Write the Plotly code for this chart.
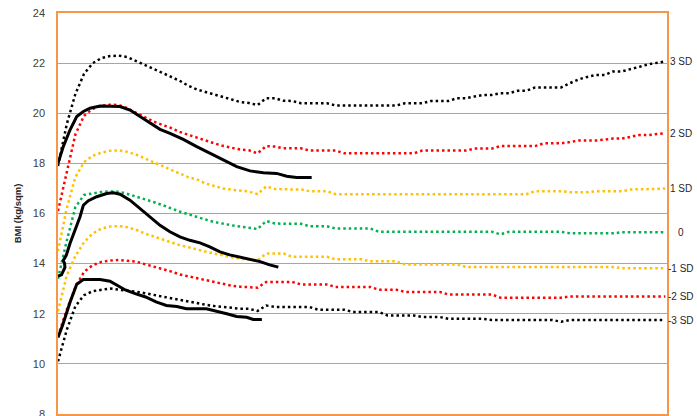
import plotly.graph_objects as go

# Age in months (reference curves, monthly points; length->height switch after month 23)
ages = list(range(0, 71))

sd3 = [17.9, 19.55, 20.77, 21.57, 22.0, 22.2, 22.28, 22.3, 22.24, 22.08, 21.95, 21.78, 21.62, 21.47, 21.3,
       21.1, 20.95, 20.85, 20.75, 20.65, 20.55, 20.45, 20.41, 20.33, 20.6,
       20.6, 20.5, 20.49, 20.4, 20.4, 20.4, 20.4,
       20.31, 20.31, 20.31, 20.31, 20.31, 20.31, 20.31, 20.31,
       20.4, 20.4, 20.4, 20.49, 20.49, 20.49, 20.6, 20.6, 20.67, 20.73, 20.73, 20.8, 20.8, 20.9, 20.9,
       21.03, 21.03, 21.03, 21.03, 21.2, 21.35, 21.45, 21.53, 21.53, 21.67, 21.67, 21.75, 21.85, 21.95,
       22.0, 22.07]

sd2 = [16.1, 17.6, 19.15, 19.9, 20.18, 20.3, 20.34, 20.33, 20.2, 20.02, 19.84, 19.67, 19.54, 19.42, 19.26,
       19.14, 19.02, 18.9, 18.8, 18.7, 18.62, 18.55, 18.52, 18.4, 18.69,
       18.67, 18.6, 18.6, 18.6,
       18.51, 18.51, 18.51, 18.51,
       18.4, 18.4, 18.4, 18.4, 18.4, 18.4, 18.4, 18.4, 18.4,
       18.51, 18.51, 18.51, 18.51, 18.51, 18.51,
       18.59, 18.59, 18.59,
       18.69, 18.69, 18.69, 18.69, 18.69,
       18.8, 18.8, 18.8, 18.85, 18.91, 18.91, 18.91, 18.95, 18.99, 18.99, 19.05, 19.13, 19.13, 19.17, 19.2]

sd1 = [14.5, 16.2, 17.45, 18.05, 18.3, 18.43, 18.5, 18.52, 18.46, 18.35, 18.2, 18.05, 17.9, 17.72, 17.57,
       17.45, 17.36, 17.2, 17.1, 17.0, 16.95, 16.91, 16.88, 16.77, 17.08,
       16.98, 16.96, 16.96, 16.96, 16.89, 16.89, 16.89,
       16.77, 16.77, 16.77, 16.77, 16.77, 16.77, 16.77, 16.77, 16.77, 16.77, 16.77, 16.77,
       16.77, 16.77, 16.77, 16.77, 16.77, 16.77, 16.77, 16.77, 16.77, 16.77, 16.77,
       16.89, 16.89, 16.89, 16.89, 16.85, 16.85, 16.85, 16.89, 16.89, 16.89, 16.89,
       16.96, 16.96, 16.96, 16.98, 17.0]

sd0 = [13.4, 14.9, 16.25, 16.74, 16.8, 16.86, 16.88, 16.87, 16.78, 16.68, 16.57, 16.46, 16.34, 16.2, 16.08,
       15.97, 15.88, 15.76, 15.66, 15.59, 15.53, 15.48, 15.43, 15.38, 15.7,
       15.6, 15.59, 15.59, 15.59, 15.49, 15.49, 15.49,
       15.4, 15.4, 15.4, 15.4, 15.4,
       15.27, 15.27, 15.27, 15.27, 15.27, 15.27, 15.27, 15.27, 15.27, 15.27, 15.27, 15.27, 15.27, 15.27,
       15.17, 15.27, 15.27, 15.27, 15.27, 15.27, 15.27, 15.27,
       15.21, 15.21, 15.21, 15.21, 15.21, 15.21,
       15.25, 15.25, 15.25, 15.25, 15.25, 15.25]

sdm1 = [12.1, 13.52, 14.3, 14.85, 15.2, 15.4, 15.48, 15.5, 15.45, 15.35, 15.2, 15.08, 14.98, 14.85, 14.74,
        14.66, 14.56, 14.48, 14.4, 14.32, 14.24, 14.19, 14.17, 14.13, 14.4,
        14.4, 14.4, 14.27, 14.27, 14.27, 14.27, 14.27,
        14.17, 14.17, 14.17, 14.17, 14.09, 14.09, 14.09, 14.09,
        13.97, 13.97, 13.97, 13.97, 13.97, 13.97, 13.97,
        13.87, 13.87, 13.87, 13.87, 13.87, 13.87, 13.87, 13.87, 13.87, 13.87, 13.87, 13.87, 13.87, 13.87,
        13.87, 13.87, 13.87, 13.87,
        13.82, 13.82, 13.82, 13.82, 13.82, 13.82]

sdm2 = [11.1, 12.15, 13.05, 13.67, 13.94, 14.07, 14.12, 14.15, 14.11, 14.08, 13.98, 13.89, 13.8, 13.69, 13.57,
        13.5, 13.42, 13.33, 13.27, 13.19, 13.12, 13.08, 13.07, 13.04, 13.27,
        13.27, 13.27, 13.27, 13.17, 13.17, 13.17, 13.17,
        13.07, 13.07, 13.07, 13.07, 13.07, 12.96, 12.96, 12.96,
        12.87, 12.87, 12.87, 12.87, 12.87, 12.77, 12.77, 12.77, 12.77, 12.77, 12.77,
        12.64, 12.64, 12.64, 12.64, 12.64, 12.64, 12.64, 12.64,
        12.69, 12.69, 12.69, 12.69, 12.69, 12.69, 12.69, 12.69, 12.69, 12.69, 12.69, 12.69]

sdm3 = [10.1, 11.35, 12.3, 12.74, 12.9, 12.97, 13.01, 12.96, 12.93, 12.88, 12.82, 12.75, 12.68, 12.63, 12.57,
        12.5, 12.43, 12.36, 12.31, 12.27, 12.22, 12.2, 12.2, 12.11, 12.33,
        12.27, 12.27, 12.27, 12.27, 12.27, 12.16, 12.16, 12.16, 12.16,
        12.07, 12.07, 12.07, 12.07, 11.93, 11.93, 11.93, 11.93, 11.87, 11.87, 11.87,
        11.8, 11.8, 11.8, 11.8, 11.8,
        11.75, 11.75, 11.75, 11.75, 11.75, 11.75, 11.75, 11.75, 11.68,
        11.75, 11.75, 11.75, 11.75, 11.75, 11.75, 11.75, 11.75, 11.75, 11.75, 11.75, 11.75]

# Child measurements (three children)
child1_age = [0, 0.61, 1.38, 2.16, 2.92, 3.69, 4.84, 5.99, 7.15, 8.3, 9.45, 10.6, 11.76, 12.91, 14.44,
              15.99, 17.52, 19.05, 20.6, 22.13, 23.67, 25.2, 26.36, 27.5, 29.24]
child1_bmi = [18.0, 18.67, 19.33, 19.87, 20.07, 20.2, 20.29, 20.29, 20.27, 20.13, 19.87, 19.6, 19.36, 19.2, 18.96,
              18.67, 18.4, 18.13, 17.87, 17.7, 17.63, 17.6, 17.49, 17.44, 17.44]

child2_age = [0, 0.4, 0.8, 0.75, 0.6, 0.95, 1.38, 1.96, 2.54, 2.92, 3.5, 4.46, 5.61, 6.38, 7.15, 8.3, 9.45,
              10.6, 11.76, 12.9, 14.06, 15.2, 16.37, 17.5, 18.67, 19.8, 20.98, 22.1, 23.3, 24.4, 25.4]
child2_bmi = [13.5, 13.55, 13.85, 14.02, 14.12, 14.33, 14.8, 15.33, 15.87, 16.33, 16.51, 16.67, 16.8, 16.83,
              16.77, 16.53, 16.2, 15.87, 15.53, 15.27, 15.07, 14.93, 14.83, 14.67, 14.47, 14.35, 14.25, 14.18,
              14.08, 13.95, 13.86]

child3_age = [0, 0.54, 1.38, 1.88, 2.16, 2.92, 4.84, 5.99, 6.76, 7.76, 8.9, 10.1, 11.3, 12.5, 13.7, 14.8,
              17.1, 18.3, 19.45, 20.6, 21.75, 22.5, 23.5]
child3_bmi = [11.05, 11.55, 12.45, 12.95, 13.18, 13.37, 13.37, 13.3, 13.15, 12.95, 12.8, 12.67, 12.47, 12.33,
              12.29, 12.2, 12.2, 12.11, 12.0, 11.89, 11.86, 11.77, 11.77]

curve_labels = ["3 SD", "2 SD", "1 SD", "0", "-1 SD", "-2 SD", "-3 SD"]
curve_colors = ["#000000", "#FF0000", "#FFC000", "#00B050", "#FFC000", "#FF0000", "#000000"]
y_ticks = [8, 10, 12, 14, 16, 18, 20, 22, 24]

curves = [sd3, sd2, sd1, sd0, sdm1, sdm2, sdm3]

fig = go.Figure()
for vals, col in zip(curves, curve_colors):
    fig.add_trace(go.Scatter(x=ages, y=vals, mode="lines",
                             line=dict(color=col, width=2.5, dash="2.5px,3px"),
                             hoverinfo="skip", showlegend=False))

for ca, cb in [(child1_age, child1_bmi), (child2_age, child2_bmi), (child3_age, child3_bmi)]:
    fig.add_trace(go.Scatter(x=ca, y=cb, mode="lines",
                             line=dict(color="#000000", width=3),
                             hoverinfo="skip", showlegend=False))

annotations = []
for vals, lab in zip(curves, curve_labels):
    annotations.append(dict(x=1.023, xref="paper", y=vals[-1], yref="y", text=lab,
                            showarrow=False, xanchor="center", yanchor="middle",
                            font=dict(family="Liberation Sans, Arial, sans-serif", size=10, color="#262626")))
annotations.append(dict(x=-0.066, xref="paper", y=0.5, yref="paper", text="<b>BMI (kg/sqm)</b>",
                        textangle=-90, showarrow=False, xanchor="center", yanchor="middle",
                        font=dict(family="Liberation Sans, Arial, sans-serif", size=9.5, color="#262626")))

fig.update_layout(
    width=697, height=416,
    margin=dict(l=58, r=30, t=13, b=2, autoexpand=False),
    paper_bgcolor="white", plot_bgcolor="white",
    showlegend=False,
    annotations=annotations,
    xaxis=dict(range=[0, 70.2], showgrid=False, zeroline=False, showticklabels=False, ticks="",
               automargin=False,
               showline=True, mirror=True, linecolor="#F79646", linewidth=1.5),
    yaxis=dict(range=[8, 24], tickvals=y_ticks, ticktext=[str(v) for v in y_ticks],
               showgrid=True, gridcolor="#A6A6A6", gridwidth=1, zeroline=False,
               ticks="outside", ticklen=9, tickcolor="rgba(0,0,0,0)",
               ticklabeloverflow="allow", automargin=False,
               tickfont=dict(family="Liberation Sans, Arial, sans-serif", size=11, color="#404040"),
               showline=True, mirror=True, linecolor="#F79646", linewidth=1.5),
)

fig.write_html("out.html", config={"displayModeBar": False},
               post_script="document.body.style.margin='0';document.body.style.overflow='hidden';")
